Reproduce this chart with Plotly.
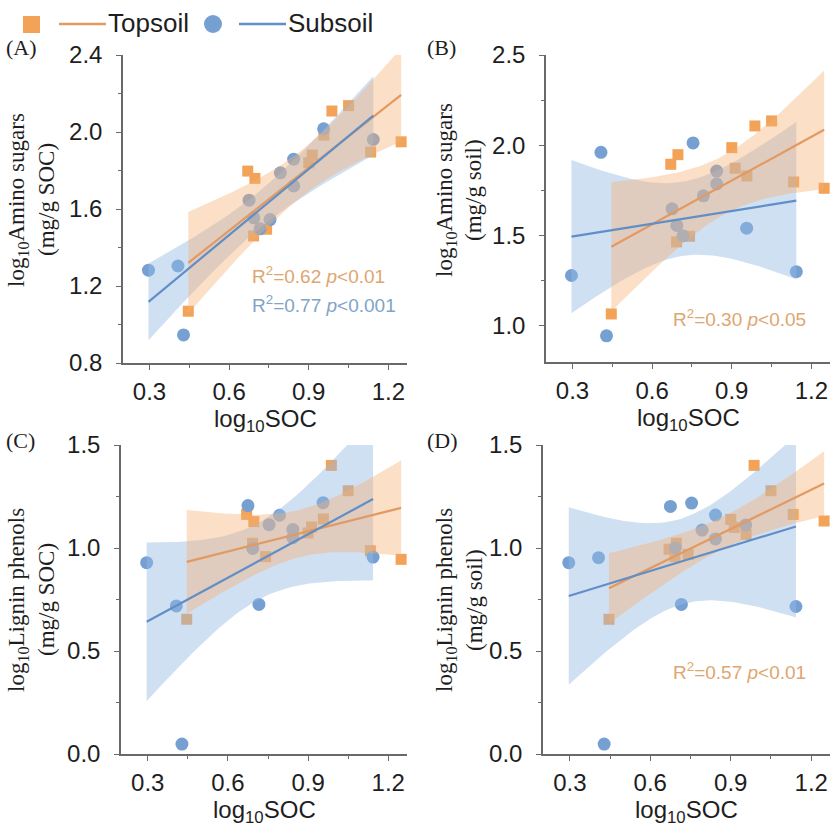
import numpy as np
import plotly.graph_objects as go

# ---------------- data ----------------
soc_top = [0.446, 0.670, 0.697, 0.692, 0.741, 0.900, 0.913, 0.957, 0.987, 1.050, 1.133, 1.248]
soc_sub = [0.296, 0.407, 0.428, 0.675, 0.693, 0.716, 0.754, 0.793, 0.843, 0.843, 0.956, 1.143]

amino_soc_top = [1.069, 1.797, 1.759, 1.460, 1.495, 1.840, 1.880, 1.984, 2.109, 2.137, 1.896, 1.949]
amino_soc_sub = [1.282, 1.304, 0.946, 1.646, 1.554, 1.497, 1.545, 1.788, 1.859, 1.720, 2.017, 1.961]

amino_soil_top = [1.066, 1.895, 1.948, 1.465, 1.496, 1.987, 1.873, 1.830, 2.107, 2.135, 1.797, 1.762]
amino_soil_sub = [1.279, 1.961, 0.945, 1.648, 1.556, 1.499, 2.013, 1.720, 1.857, 1.786, 1.541, 1.300]

lignin_soc_top = [0.654, 1.163, 1.128, 1.023, 0.958, 1.073, 1.102, 1.141, 1.401, 1.278, 0.987, 0.945]
lignin_soc_sub = [0.929, 0.719, 0.048, 1.206, 0.998, 0.726, 1.113, 1.159, 1.090, 1.050, 1.220, 0.956]

lignin_soil_top = [0.654, 0.994, 1.023, 0.958, 0.969, 1.139, 1.100, 1.066, 1.401, 1.278, 1.163, 1.131]
lignin_soil_sub = [0.929, 0.953, 0.048, 1.202, 1.000, 0.726, 1.218, 1.087, 1.160, 1.044, 1.112, 0.716]

x_ticks = [0.3, 0.6, 0.9, 1.2]
series_names = ["Topsoil", "Subsoil"]
panel_labels = ["(A)", "(B)", "(C)", "(D)"]
y_titles = [["log<sub>10</sub>Amino sugars", "(mg/g SOC)"],
            ["log<sub>10</sub>Amino sugars", "(mg/g soil)"],
            ["log<sub>10</sub>Lignin phenols", "(mg/g SOC)"],
            ["log<sub>10</sub>Lignin phenols", "(mg/g soil)"]]
x_title = "log<sub>10</sub>SOC"
stats_text = [
    [("R<sup>2</sup>=0.62 <i>p</i><0.01", "top"), ("R<sup>2</sup>=0.77 <i>p</i><0.001", "sub")],
    [("R<sup>2</sup>=0.30 <i>p</i><0.05", "top")],
    [],
    [("R<sup>2</sup>=0.57 <i>p</i><0.01", "top")],
]
T_CRIT = 2.228  # Student t, 0.975 quantile, df = 10

# ---------------- styling ----------------
W, H = 830, 827
ORANGE_MK = "rgb(242,163,88)"
BLUE_MK = "rgb(118,160,210)"
ORANGE_LN = "rgb(226,154,98)"
BLUE_LN = "rgb(96,142,198)"
ORANGE_BAND = "rgba(246,176,112,0.40)"
BLUE_BAND = "rgba(150,186,228,0.45)"
ORANGE_TXT = "rgb(222,166,112)"
BLUE_TXT = "rgb(128,164,200)"
AX_COL = "rgb(105,105,105)"
SANS = "Liberation Sans"
SERIF = "Liberation Serif"


def px(x):
    return x / W


def py(y):
    return 1 - y / H


panels = [
    dict(top=amino_soc_top, sub=amino_soc_sub, xd=(123, 407), yd=(55, 363), yr=(0.8, 2.4), dt=0.4, mdt=0.2,
         lab=(4, 48), yt=(18, 46, 200), st=(250, 275)),
    dict(top=amino_soil_top, sub=amino_soil_sub, xd=(546, 830), yd=(55, 362), yr=(0.8, 2.5), dt=0.5, mdt=0.25,
         lab=(425, 48), yt=(446, 474, 190), st=(671, 318)),
    dict(top=lignin_soc_top, sub=lignin_soc_sub, xd=(121, 407), yd=(445, 754), yr=(0.0, 1.5), dt=0.5, mdt=0.25,
         lab=(4, 440), yt=(18, 46, 600), st=(250, 665)),
    dict(top=lignin_soil_top, sub=lignin_soil_sub, xd=(543, 830), yd=(445, 754), yr=(0.0, 1.5), dt=0.5, mdt=0.25,
         lab=(425, 440), yt=(446, 474, 600), st=(671, 671)),
]


def fit_band(x, y, n_grid=60):
    x = np.asarray(x, float)
    y = np.asarray(y, float)
    n = len(x)
    xm, ym = x.mean(), y.mean()
    sxx = ((x - xm) ** 2).sum()
    b = ((x - xm) * (y - ym)).sum() / sxx
    a = ym - b * xm
    s = np.sqrt(((y - (a + b * x)) ** 2).sum() / (n - 2))
    g = np.linspace(x.min(), x.max(), n_grid)
    f = a + b * g
    se = s * np.sqrt(1.0 / n + (g - xm) ** 2 / sxx)
    return g, f, f + T_CRIT * se, f - T_CRIT * se


fig = go.Figure()
annotations = []

for i, p in enumerate(panels):
    k = "" if i == 0 else str(i + 1)
    xa, ya = "x" + k, "y" + k
    # markers
    fig.add_trace(go.Scatter(x=soc_top, y=p["top"], mode="markers", xaxis=xa, yaxis=ya, showlegend=False,
                             marker=dict(symbol="square", size=11, color=ORANGE_MK, line=dict(width=0))))
    fig.add_trace(go.Scatter(x=soc_sub, y=p["sub"], mode="markers", xaxis=xa, yaxis=ya, showlegend=False,
                             marker=dict(symbol="circle", size=13, color=BLUE_MK, line=dict(width=0))))
    fits = {}
    for key, xs, col in (("sub", soc_sub, BLUE_BAND), ("top", soc_top, ORANGE_BAND)):
        g, f, up, lo = fit_band(xs, p[key])
        fits[key] = (g, f)
        fig.add_trace(go.Scatter(x=np.concatenate([g, g[::-1]]), y=np.concatenate([up, lo[::-1]]),
                                 mode="lines", fill="toself", fillcolor=col, line=dict(width=0),
                                 xaxis=xa, yaxis=ya, showlegend=False, hoverinfo="skip"))
    for key, col in (("top", ORANGE_LN), ("sub", BLUE_LN)):
        g, f = fits[key]
        fig.add_trace(go.Scatter(x=g, y=f, mode="lines", line=dict(color=col, width=2.2),
                                 xaxis=xa, yaxis=ya, showlegend=False))

    axis_common = dict(showline=True, linecolor=AX_COL, linewidth=1.5, ticks="outside", ticklen=5,
                       tickcolor=AX_COL, tickwidth=1.2, showgrid=False, zeroline=False, automargin=False,
                       tickfont=dict(family=SANS, size=24, color="#1e1e1e"), tickformat=".1f")
    fig.update_layout({
        "xaxis" + k: dict(axis_common, domain=[px(p["xd"][0]), px(p["xd"][1])], range=[0.2, 1.27],
                          tickvals=x_ticks, anchor=ya, ticklabelstandoff=1,
                          minor=dict(ticks="outside", ticklen=3, dtick=0.15, tick0=0.3, tickcolor=AX_COL,
                                     showgrid=False)),
        "yaxis" + k: dict(axis_common, domain=[py(p["yd"][1]), py(p["yd"][0])], range=list(p["yr"]),
                          dtick=p["dt"], tick0=0, anchor=xa, ticklabelstandoff=9,
                          minor=dict(ticks="outside", ticklen=3, dtick=p["mdt"], tick0=0, tickcolor=AX_COL,
                                     showgrid=False)),
    })

    # panel label
    annotations.append(dict(text=panel_labels[i], x=px(p["lab"][0]), y=py(p["lab"][1]), xref="paper",
                            yref="paper", xanchor="left", yanchor="middle", showarrow=False,
                            font=dict(family=SERIF, size=22, color="#1e1e1e")))
    # y title (two lines)
    for j, t in enumerate(y_titles[i]):
        annotations.append(dict(text=t, x=px(p["yt"][j]), y=py(p["yt"][2]), xref="paper", yref="paper",
                                xanchor="center", yanchor="middle", textangle=-90, showarrow=False,
                                font=dict(family=SERIF, size=23, color="#1e1e1e")))
    # x title
    annotations.append(dict(text=x_title, x=px((p["xd"][0] + p["xd"][1]) / 2), y=py(p["yd"][1] + 40),
                            xref="paper", yref="paper", xanchor="center", yanchor="top", showarrow=False,
                            font=dict(family=SANS, size=24, color="#1e1e1e")))
    # stats
    for j, (t, key) in enumerate(stats_text[i]):
        annotations.append(dict(text=t, x=px(p["st"][0]), y=py(p["st"][1] + 29 * j), xref="paper",
                                yref="paper", xanchor="left", yanchor="middle", showarrow=False,
                                font=dict(family=SANS, size=19,
                                          color=ORANGE_TXT if key == "top" else BLUE_TXT)))

# legend (drawn by hand, top-left)
shapes = [
    dict(type="rect", xref="paper", yref="paper", x0=px(23), x1=px(40), y0=py(33), y1=py(16),
         fillcolor=ORANGE_MK, line=dict(width=0)),
    dict(type="line", xref="paper", yref="paper", x0=px(59), x1=px(106), y0=py(24), y1=py(24),
         line=dict(color=ORANGE_LN, width=2.5)),
    dict(type="circle", xref="paper", yref="paper", x0=px(204), x1=px(222), y0=py(33), y1=py(15),
         fillcolor=BLUE_MK, line=dict(width=0)),
    dict(type="line", xref="paper", yref="paper", x0=px(239), x1=px(286), y0=py(24), y1=py(24),
         line=dict(color=BLUE_LN, width=2.5)),
]
annotations.append(dict(text=series_names[0], x=px(106), y=py(23), xref="paper", yref="paper",
                        xanchor="left", yanchor="middle", showarrow=False,
                        font=dict(family=SANS, size=26, color="#1e1e1e")))
annotations.append(dict(text=series_names[1], x=px(286), y=py(23), xref="paper", yref="paper",
                        xanchor="left", yanchor="middle", showarrow=False,
                        font=dict(family=SANS, size=26, color="#1e1e1e")))

fig.update_layout(width=W, height=H, margin=dict(l=0, r=0, t=0, b=0, pad=0, autoexpand=False),
                  plot_bgcolor="white", paper_bgcolor="white", showlegend=False,
                  annotations=annotations, shapes=shapes)

fig.write_html("out.html", config={"displayModeBar": False},
               post_script="document.body.style.margin='0';document.body.style.padding='0';"
                           "document.body.style.overflow='hidden';")
